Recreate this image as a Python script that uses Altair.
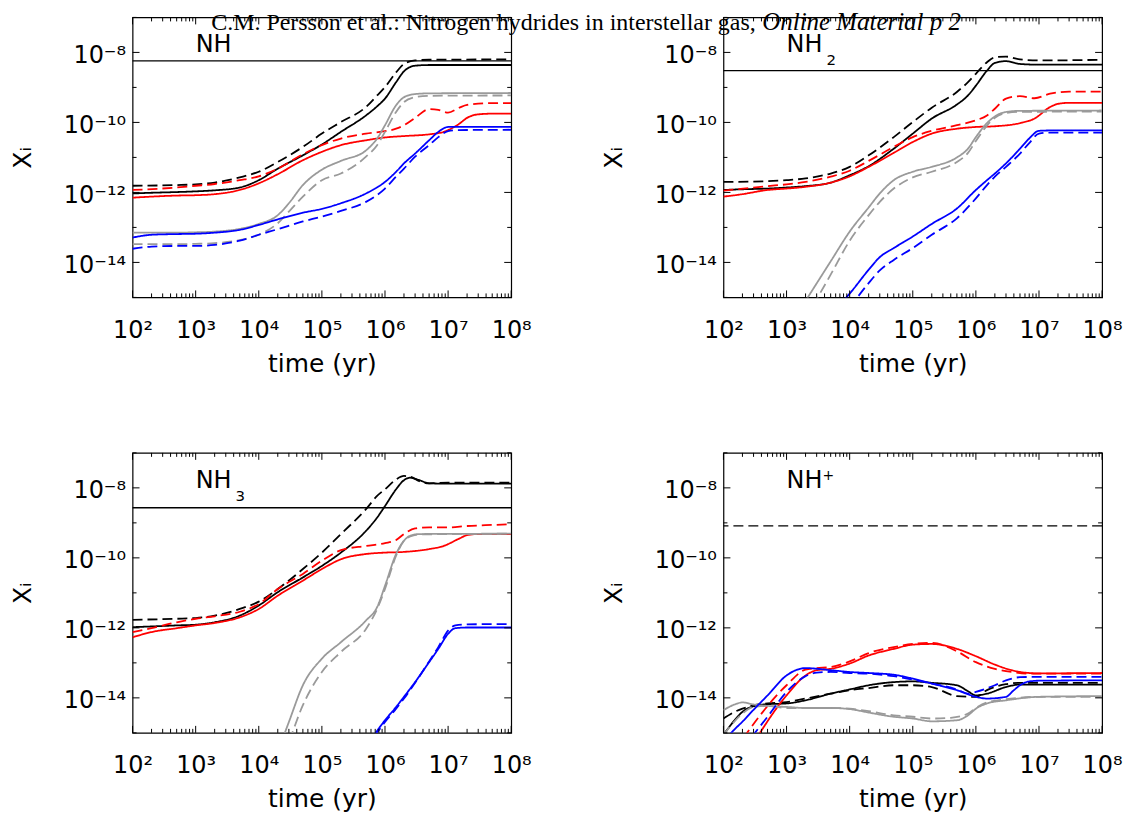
import altair as alt
import pandas as pd

# ------------------------------------------------------------------
# Data: (time in yr, log10 of abundance X_i)
# ------------------------------------------------------------------
NH_black_solid = [(1e2,-12.03),(2e2,-12.01),(5e2,-11.99),(1e3,-11.97),(2e3,-11.94),(5e3,-11.86),(1e4,-11.65),(2e4,-11.32),(5e4,-10.94),(1e5,-10.63),(2e5,-10.27),(5e5,-9.80),(7.5e5,-9.54),(1e6,-9.32),(1.5e6,-8.85),(2e6,-8.54),(3e6,-8.38),(5e6,-8.36),(1e8,-8.36)]
NH_black_dashed = [(1e2,-11.81),(5e2,-11.79),(1e3,-11.77),(2e3,-11.72),(5e3,-11.57),(1e4,-11.41),(2e4,-11.13),(5e4,-10.70),(1e5,-10.32),(2e5,-9.99),(5e5,-9.56),(7.5e5,-9.23),(1e6,-8.99),(1.5e6,-8.57),(2e6,-8.33),(3e6,-8.23),(5e6,-8.21),(1e8,-8.20)]
NH_red_solid = [(1e2,-12.15),(2e2,-12.12),(5e2,-12.09),(1e3,-12.08),(2e3,-12.05),(5e3,-11.93),(1e4,-11.74),(2e4,-11.48),(5e4,-11.08),(1e5,-10.84),(2e5,-10.65),(5e5,-10.51),(1e6,-10.43),(2e6,-10.39),(5e6,-10.34),(8.5e6,-10.27),(1.5e7,-10.04),(2e7,-9.87),(3e7,-9.77),(5e7,-9.75),(1e8,-9.75)]
NH_red_dashed = [(1e2,-11.93),(5e2,-11.86),(1e3,-11.81),(2e3,-11.76),(5e3,-11.65),(1e4,-11.54),(2e4,-11.32),(5e4,-10.91),(1e5,-10.65),(2e5,-10.46),(5e5,-10.32),(1e6,-10.25),(1.5e6,-10.18),(2e6,-10.08),(3e6,-9.87),(5e6,-9.62),(7e6,-9.64),(1e7,-9.72),(1.5e7,-9.58),(2e7,-9.50),(5e7,-9.45),(1e8,-9.45)]
NH_gray_solid = [(1e2,-13.15),(5e2,-13.15),(1e3,-13.14),(2e3,-13.12),(5e3,-13.04),(1e4,-12.90),(2e4,-12.65),(3e4,-12.31),(5e4,-11.79),(1e5,-11.35),(2e5,-11.10),(5e5,-10.80),(7.5e5,-10.46),(1e6,-10.08),(1.5e6,-9.51),(2e6,-9.28),(3e6,-9.19),(5e6,-9.17),(1e8,-9.16)]
NH_gray_dashed = [(1e2,-13.48),(5e2,-13.48),(1e3,-13.47),(2e3,-13.45),(5e3,-13.36),(1e4,-13.21),(2e4,-12.88),(3e4,-12.55),(5e4,-12.12),(1e5,-11.65),(2e5,-11.46),(5e5,-10.98),(7.5e5,-10.65),(1e6,-10.27),(1.5e6,-9.70),(2e6,-9.42),(3e6,-9.28),(5e6,-9.24),(1e8,-9.23)]
NH_blue_solid = [(1e2,-13.29),(2e2,-13.21),(5e2,-13.19),(1e3,-13.18),(2e3,-13.15),(5e3,-13.07),(1e4,-12.93),(2e4,-12.77),(5e4,-12.58),(1e5,-12.47),(2e5,-12.31),(5e5,-12.03),(1e6,-11.70),(1.5e6,-11.41),(2e6,-11.17),(3e6,-10.89),(5e6,-10.51),(7e6,-10.27),(1e7,-10.13),(1.5e7,-10.13),(1e8,-10.13)]
NH_blue_dashed = [(1e2,-13.61),(2e2,-13.55),(5e2,-13.53),(1e3,-13.53),(2e3,-13.50),(5e3,-13.38),(1e4,-13.21),(2e4,-13.05),(5e4,-12.83),(1e5,-12.69),(2e5,-12.53),(5e5,-12.27),(1e6,-11.89),(1.5e6,-11.55),(2e6,-11.32),(3e6,-10.98),(5e6,-10.65),(7e6,-10.42),(1e7,-10.25),(1.5e7,-10.22),(1e8,-10.21)]

NH2_black_solid = [(1e2,-11.93),(2e2,-11.91),(5e2,-11.89),(1e3,-11.86),(2e3,-11.82),(5e3,-11.72),(1e4,-11.51),(2e4,-11.25),(5e4,-10.75),(1e5,-10.32),(2e5,-9.89),(5e5,-9.49),(7.5e5,-9.23),(1e6,-8.95),(1.5e6,-8.52),(2e6,-8.30),(3e6,-8.25),(5e6,-8.33),(1e7,-8.35),(1e8,-8.35)]
NH2_black_dashed = [(1e2,-11.70),(5e2,-11.68),(1e3,-11.65),(2e3,-11.60),(5e3,-11.46),(1e4,-11.27),(2e4,-10.94),(5e4,-10.42),(1e5,-9.99),(2e5,-9.58),(5e5,-9.13),(7.5e5,-8.85),(1e6,-8.61),(1.5e6,-8.28),(2e6,-8.14),(3e6,-8.12),(5e6,-8.20),(1e7,-8.23),(1e8,-8.21)]
NH2_red_solid = [(1e2,-12.12),(2e2,-12.05),(5e2,-11.93),(1e3,-11.89),(2e3,-11.84),(5e3,-11.72),(1e4,-11.54),(2e4,-11.27),(5e4,-10.87),(1e5,-10.56),(2e5,-10.32),(5e5,-10.18),(1e6,-10.13),(2e6,-10.11),(5e6,-10.02),(8.5e6,-9.89),(1.5e7,-9.56),(2e7,-9.47),(3e7,-9.44),(1e8,-9.44)]
NH2_red_dashed = [(1e2,-11.95),(5e2,-11.82),(1e3,-11.77),(2e3,-11.70),(5e3,-11.55),(1e4,-11.38),(2e4,-11.10),(5e4,-10.70),(1e5,-10.42),(2e5,-10.24),(5e5,-10.08),(1e6,-9.94),(1.5e6,-9.80),(2e6,-9.61),(3e6,-9.32),(5e6,-9.25),(8.5e6,-9.31),(1.5e7,-9.18),(3e7,-9.12),(1e8,-9.12)]
NH2_gray_solid = [(2e3,-15.10),(5e3,-13.97),(1e4,-13.12),(2e4,-12.43),(3e4,-12.03),(5e4,-11.65),(1e5,-11.41),(2e5,-11.27),(5e5,-11.00),(7.5e5,-10.75),(1e6,-10.42),(1.5e6,-10.02),(2e6,-9.83),(3e6,-9.70),(5e6,-9.67),(1e8,-9.66)]
NH2_gray_dashed = [(2e3,-15.60),(5e3,-14.35),(1e4,-13.38),(2e4,-12.65),(3e4,-12.27),(5e4,-11.89),(1e5,-11.57),(2e5,-11.41),(5e5,-11.13),(7.5e5,-10.87),(1e6,-10.53),(1.5e6,-10.09),(2e6,-9.87),(3e6,-9.73),(5e6,-9.70),(1e8,-9.69)]
NH2_blue_solid = [(7e3,-15.20),(1e4,-14.89),(2e4,-14.21),(3e4,-13.85),(5e4,-13.59),(1e5,-13.26),(2e5,-12.90),(5e5,-12.46),(1e6,-11.93),(1.5e6,-11.65),(2e6,-11.46),(3e6,-11.17),(5e6,-10.75),(7e6,-10.46),(1e7,-10.24),(1.5e7,-10.23),(1e8,-10.23)]
NH2_blue_dashed = [(1e4,-15.30),(2e4,-14.59),(3e4,-14.23),(5e4,-13.93),(1e5,-13.59),(2e5,-13.21),(5e5,-12.74),(1e6,-12.17),(1.5e6,-11.79),(2e6,-11.55),(3e6,-11.27),(5e6,-10.89),(7e6,-10.59),(1e7,-10.32),(1.5e7,-10.29),(1e8,-10.29)]

NH3_black_solid = [(1e2,-11.98),(2e2,-11.96),(5e2,-11.93),(1e3,-11.91),(2e3,-11.84),(5e3,-11.65),(1e4,-11.36),(2e4,-10.98),(5e4,-10.56),(1e5,-10.23),(2e5,-9.85),(5e5,-9.23),(7.5e5,-8.85),(1e6,-8.52),(1.5e6,-8.04),(2e6,-7.78),(2.5e6,-7.71),(3.5e6,-7.78),(5e6,-7.87),(1e7,-7.88),(1e8,-7.88)]
NH3_black_dashed = [(1e2,-11.77),(5e2,-11.74),(1e3,-11.72),(2e3,-11.65),(5e3,-11.46),(1e4,-11.25),(2e4,-10.89),(5e4,-10.32),(1e5,-9.85),(2e5,-9.32),(5e5,-8.61),(7.5e5,-8.23),(1e6,-8.04),(1.5e6,-7.76),(2e6,-7.66),(2.5e6,-7.68),(3.5e6,-7.81),(5e6,-7.87),(1e7,-7.85),(1e8,-7.85)]
NH3_red_solid = [(1e2,-12.27),(2e2,-12.12),(5e2,-12.01),(1e3,-11.93),(2e3,-11.86),(5e3,-11.70),(1e4,-11.46),(2e4,-11.08),(5e4,-10.65),(1e5,-10.32),(2e5,-10.04),(5e5,-9.89),(1e6,-9.85),(2e6,-9.83),(5e6,-9.75),(8.5e6,-9.66),(1.5e7,-9.45),(2e7,-9.35),(3e7,-9.32),(1e8,-9.32)]
NH3_red_dashed = [(1e2,-12.12),(2e2,-12.01),(5e2,-11.84),(1e3,-11.74),(2e3,-11.67),(5e3,-11.54),(1e4,-11.32),(2e4,-10.89),(5e4,-10.46),(1e5,-10.08),(2e5,-9.78),(5e5,-9.66),(1e6,-9.58),(1.5e6,-9.49),(2e6,-9.32),(3e6,-9.16),(5e6,-9.13),(1e7,-9.13),(2e7,-9.09),(5e7,-9.06),(1e8,-9.04)]
NH3_gray_solid = [(2e4,-15.55),(3e4,-14.69),(5e4,-13.64),(1e5,-12.88),(2e5,-12.41),(5e5,-11.79),(7.5e5,-11.41),(1e6,-10.80),(1.5e6,-9.89),(2e6,-9.51),(2.5e6,-9.37),(3.5e6,-9.32),(1e8,-9.31)]
NH3_gray_dashed = [(2e4,-16.00),(3e4,-15.25),(5e4,-14.21),(1e5,-13.26),(2e5,-12.69),(5e5,-12.03),(7.5e5,-11.46),(1e6,-10.89),(1.5e6,-9.94),(2e6,-9.51),(2.5e6,-9.39),(3.5e6,-9.33),(1e8,-9.31)]
NH3_blue_solid = [(5e5,-15.40),(1e6,-14.64),(1.5e6,-14.26),(2e6,-13.97),(3e6,-13.55),(5e6,-12.98),(7e6,-12.60),(1e7,-12.17),(1.3e7,-12.01),(2e7,-11.99),(1e8,-11.99)]
NH3_blue_dashed = [(5e5,-15.45),(1e6,-14.69),(1.5e6,-14.31),(2e6,-14.02),(3e6,-13.57),(5e6,-12.96),(7e6,-12.55),(1e7,-12.08),(1.3e7,-11.93),(2e7,-11.90),(1e8,-11.89)]

NHp_black_solid = [(1e2,-15.06),(1.5e2,-14.64),(2e2,-14.40),(3e2,-14.24),(5e2,-14.18),(1e3,-14.16),(2e3,-14.07),(5e3,-13.88),(1e4,-13.76),(2e4,-13.64),(5e4,-13.55),(1e5,-13.53),(2e5,-13.57),(5e5,-13.64),(7.5e5,-13.81),(1e6,-13.93),(1.5e6,-13.88),(3e6,-13.69),(5e6,-13.62),(1e8,-13.62)]
NHp_black_dashed = [(1e2,-14.59),(1.5e2,-14.40),(2e2,-14.31),(3e2,-14.21),(5e2,-14.16),(1e3,-14.12),(2e3,-14.02),(5e3,-13.88),(1e4,-13.78),(2e4,-13.72),(5e4,-13.64),(1e5,-13.64),(2e5,-13.69),(5e5,-13.95),(1e6,-13.97),(1.5e6,-13.78),(3e6,-13.61),(5e6,-13.57),(1e8,-13.57)]
NHp_red_solid = [(2e2,-15.82),(1e3,-13.93),(2e3,-13.36),(3e3,-13.21),(5e3,-13.17),(1e4,-13.02),(2e4,-12.79),(5e4,-12.60),(1e5,-12.48),(2e5,-12.46),(5e5,-12.60),(1e6,-12.81),(2e6,-13.05),(3.7e6,-13.21),(7e6,-13.29),(1e7,-13.30),(1e8,-13.29)]
NHp_red_dashed = [(1.5e2,-15.50),(1e3,-13.64),(2e3,-13.19),(3e3,-13.15),(5e3,-13.12),(1e4,-12.96),(2e4,-12.72),(5e4,-12.55),(1e5,-12.46),(2e5,-12.43),(5e5,-12.67),(1e6,-12.98),(2e6,-13.17),(3.7e6,-13.26),(7e6,-13.31),(1e8,-13.31)]
NHp_gray_solid = [(1e2,-14.35),(1.5e2,-14.19),(2e2,-14.13),(3e2,-14.19),(5e2,-14.23),(1e3,-14.26),(2e3,-14.29),(5e3,-14.29),(1e4,-14.32),(2e4,-14.42),(5e4,-14.54),(1e5,-14.59),(2e5,-14.67),(5e5,-14.64),(7.5e5,-14.50),(1e6,-14.31),(1.5e6,-14.16),(3e6,-14.07),(1e7,-13.97),(1e8,-13.95)]
NHp_gray_dashed = [(1e2,-15.06),(1.5e2,-14.67),(2e2,-14.45),(3e2,-14.26),(5e2,-14.23),(1e3,-14.29),(2e3,-14.29),(5e3,-14.29),(1e4,-14.31),(2e4,-14.38),(5e4,-14.50),(1e5,-14.54),(2e5,-14.59),(4e5,-14.57),(7.5e5,-14.45),(1e6,-14.29),(1.5e6,-14.13),(3e6,-14.04),(1e7,-13.97),(1e8,-13.97)]
NHp_blue_solid = [(1e2,-15.25),(1.5e2,-14.90),(2e2,-14.68),(3e2,-14.34),(5e2,-13.93),(1e3,-13.36),(2e3,-13.15),(5e3,-13.21),(1e4,-13.26),(2e4,-13.29),(5e4,-13.34),(1e5,-13.45),(2e5,-13.59),(5e5,-13.78),(1e6,-13.97),(1.5e6,-14.02),(3e6,-13.97),(4e6,-13.78),(5e6,-13.64),(7e6,-13.53),(1e7,-13.51),(1e8,-13.50)]
NHp_blue_dashed = [(2e2,-15.46),(3e2,-15.05),(5e2,-14.54),(1e3,-13.83),(2e3,-13.38),(3e3,-13.28),(5e3,-13.26),(1e4,-13.29),(2e4,-13.31),(5e4,-13.38),(1e5,-13.48),(2e5,-13.59),(5e5,-13.76),(7.5e5,-13.88),(1e6,-13.83),(2e6,-13.64),(3e6,-13.50),(5e6,-13.41),(1e7,-13.40),(1e8,-13.40)]

# observed abundances (horizontal lines)
OBS_NH, OBS_NH2, OBS_NH3, OBS_NHP = 5.7e-9, 3.0e-9, 2.7e-9, 8.2e-10

MOLECULES = ["NH", "NH", "NH", "NH"]
SUBSCRIPTS = ["", "2", "3", ""]
SUPERSCRIPTS = ["", "", "", "+"]

HEADER_ROMAN = "C.M. Persson et al.: Nitrogen hydrides in interstellar gas,"
HEADER_ITALIC = "Online Material p 2"

X_LABEL_EXP = [2, 3, 4, 5, 6, 7, 8]
Y_LABEL_EXP = [-8, -10, -12, -14]

COLOUR_NAMES = ["black", "red", "gray", "blue"]
COLOUR_HEX = ["#000000", "#ff0000", "#9a9a9a", "#0000ff"]

# ------------------------------------------------------------------
W, H = 380, 281
FONT = "DejaVu Sans"
LABEL_T, LABEL_X = 1e3, 1e-8
MAJOR_LEN, MINOR_LEN = 7, 4

X_MAJOR_TICKS = [float(f"1e{k}") for k in range(2, 9)]
X_MINOR_TICKS = [float(m * 10 ** k) for k in range(2, 8) for m in range(2, 10)]
Y_MAJOR_TICKS = [float(f"1e-{e}") for e in (8, 10, 12, 14)]
Y_MINOR_TICKS = [float(f"1e-{e}") for e in (7, 9, 11, 13, 15)]
X_LABEL_VALUES = [float(f"1e{e}") for e in X_LABEL_EXP]
Y_LABEL_VALUES = [float(f"1e{e}") for e in Y_LABEL_EXP]

SUP = str.maketrans("0123456789-", "⁰¹²³⁴⁵⁶⁷⁸⁹⁻")


def pow_label_expr(exps):
    expr = "''"
    for e in exps:
        expr = f"round(log(datum.value)/LN10) == {e} ? '10{str(e).translate(SUP)}' : {expr}"
    return expr


XS = alt.Scale(type="log", domain=[1e2, 1e8], nice=False)
YS = alt.Scale(type="log", domain=[1e-15, 1e-7], nice=False)

X_MAIN = alt.Axis(orient="bottom", values=X_LABEL_VALUES, labelExpr=pow_label_expr(X_LABEL_EXP),
                  ticks=False, tickSize=0, domain=False, grid=False, title="time (yr)",
                  labelPadding=21, titlePadding=9, labelFlush=False, labelOverlap=False)
Y_MAIN = alt.Axis(orient="left", values=Y_LABEL_VALUES, labelExpr=pow_label_expr(Y_LABEL_EXP),
                  ticks=False, tickSize=0, domain=False, grid=False, title="Xᵢ",
                  labelPadding=7, labelOffset=3, titlePadding=28, labelOverlap=False)


def build_df(curves):
    rows = []
    for (colour, model), pts in curves.items():
        for t, lg in pts:
            rows.append({"t": t, "X": 10.0 ** lg, "colour": colour, "model": model,
                         "series": f"{colour}-{model}"})
    return pd.DataFrame(rows)


def tick_layers():
    """Inward-pointing tick marks on all four frame edges (IDL style)."""
    out = []
    for vals, ln in ((X_MAJOR_TICKS, MAJOR_LEN), (X_MINOR_TICKS, MINOR_LEN)):
        base = alt.Chart(pd.DataFrame({"t": vals})).mark_rule(color="black", strokeWidth=1)
        x = alt.X("t:Q", scale=XS, axis=None)
        out.append(base.encode(x=x, y=alt.value(H), y2=alt.value(H - ln)))
        out.append(base.encode(x=x, y=alt.value(0), y2=alt.value(ln)))
    for vals, ln in ((Y_MAJOR_TICKS, MAJOR_LEN), (Y_MINOR_TICKS, MINOR_LEN)):
        base = alt.Chart(pd.DataFrame({"X": vals})).mark_rule(color="black", strokeWidth=1)
        y = alt.Y("X:Q", scale=YS, axis=None)
        out.append(base.encode(y=y, x=alt.value(0), x2=alt.value(ln)))
        out.append(base.encode(y=y, x=alt.value(W), x2=alt.value(W - ln)))
    return out


def make_panel(i, curves, obs, obs_dashed, header=False):
    df = build_df(curves)
    lines = alt.Chart(df).mark_line(clip=True, strokeWidth=1.8, interpolate="monotone").encode(
        x=alt.X("t:Q", scale=XS, axis=X_MAIN),
        y=alt.Y("X:Q", scale=YS, axis=Y_MAIN),
        color=alt.Color("colour:N", scale=alt.Scale(domain=COLOUR_NAMES, range=COLOUR_HEX), legend=None),
        strokeDash=alt.StrokeDash("model:N", scale=alt.Scale(domain=["solid", "dashed"], range=[[1, 0], [10, 5]]), legend=None),
        detail="series:N",
    )
    rule_kw = {"strokeDash": [10, 5]} if obs_dashed else {}
    rule = alt.Chart(pd.DataFrame({"X": [obs]})).mark_rule(color="black", strokeWidth=1.3, **rule_kw).encode(
        y=alt.Y("X:Q", scale=YS, axis=None))

    lab_df = pd.DataFrame({"txt": [MOLECULES[i]], "sub": [SUBSCRIPTS[i]], "sup": [SUPERSCRIPTS[i]],
                           "t": [LABEL_T], "X": [LABEL_X]})
    enc = dict(x=alt.X("t:Q", scale=XS, axis=None), y=alt.Y("X:Q", scale=YS, axis=None))
    lab = alt.Chart(lab_df).mark_text(align="left", baseline="alphabetic", fontSize=24, font=FONT,
                                      color="black").encode(text="txt:N", **enc)
    sub = alt.Chart(lab_df).mark_text(align="left", baseline="alphabetic", fontSize=15, font=FONT,
                                      color="black", dx=40, dy=13).encode(text="sub:N", **enc)
    sup = alt.Chart(lab_df).mark_text(align="left", baseline="alphabetic", fontSize=14, font=FONT,
                                      color="black", dx=36, dy=-8).encode(text="sup:N", **enc)
    layers = [lines, rule] + tick_layers() + [lab, sub, sup]
    if header:
        h1 = alt.Chart(pd.DataFrame({"txt": [HEADER_ROMAN]})).mark_text(
            font="Liberation Serif", fontSize=24, align="left", baseline="alphabetic", color="black").encode(
            text="txt:N", x=alt.value(79), y=alt.value(13))
        h2 = alt.Chart(pd.DataFrame({"txt": [HEADER_ITALIC]})).mark_text(
            font="Liberation Serif", fontSize=25, fontStyle="italic", align="left", baseline="alphabetic",
            color="black").encode(text="txt:N", x=alt.value(632), y=alt.value(13))
        layers += [h1, h2]
    return alt.layer(*layers).resolve_axis(x="independent", y="independent").properties(width=W, height=H)


def curve_set(prefix):
    g = globals()
    return {(c, m): g[f"{prefix}_{c}_{m}"] for c in COLOUR_NAMES for m in ["solid", "dashed"]}


p1 = make_panel(0, curve_set("NH"), OBS_NH, False, header=True)
p2 = make_panel(1, curve_set("NH2"), OBS_NH2, False)
p3 = make_panel(2, curve_set("NH3"), OBS_NH3, False)
p4 = make_panel(3, curve_set("NHp"), OBS_NHP, True)

chart = alt.concat(p1, p2, p3, p4, columns=2, spacing={"row": 156, "column": 213}, bounds="flush").properties(
    padding={"left": 1, "top": 0, "right": 5, "bottom": 5}
).configure(font=FONT).configure_axis(
    labelFont=FONT, titleFont=FONT, labelFontSize=24, titleFontSize=25, titleFontWeight="normal",
    labelColor="black", titleColor="black"
).configure_view(stroke="black", strokeWidth=1.2)

chart.save("out.html", embed_options={"renderer": "svg", "actions": False})
